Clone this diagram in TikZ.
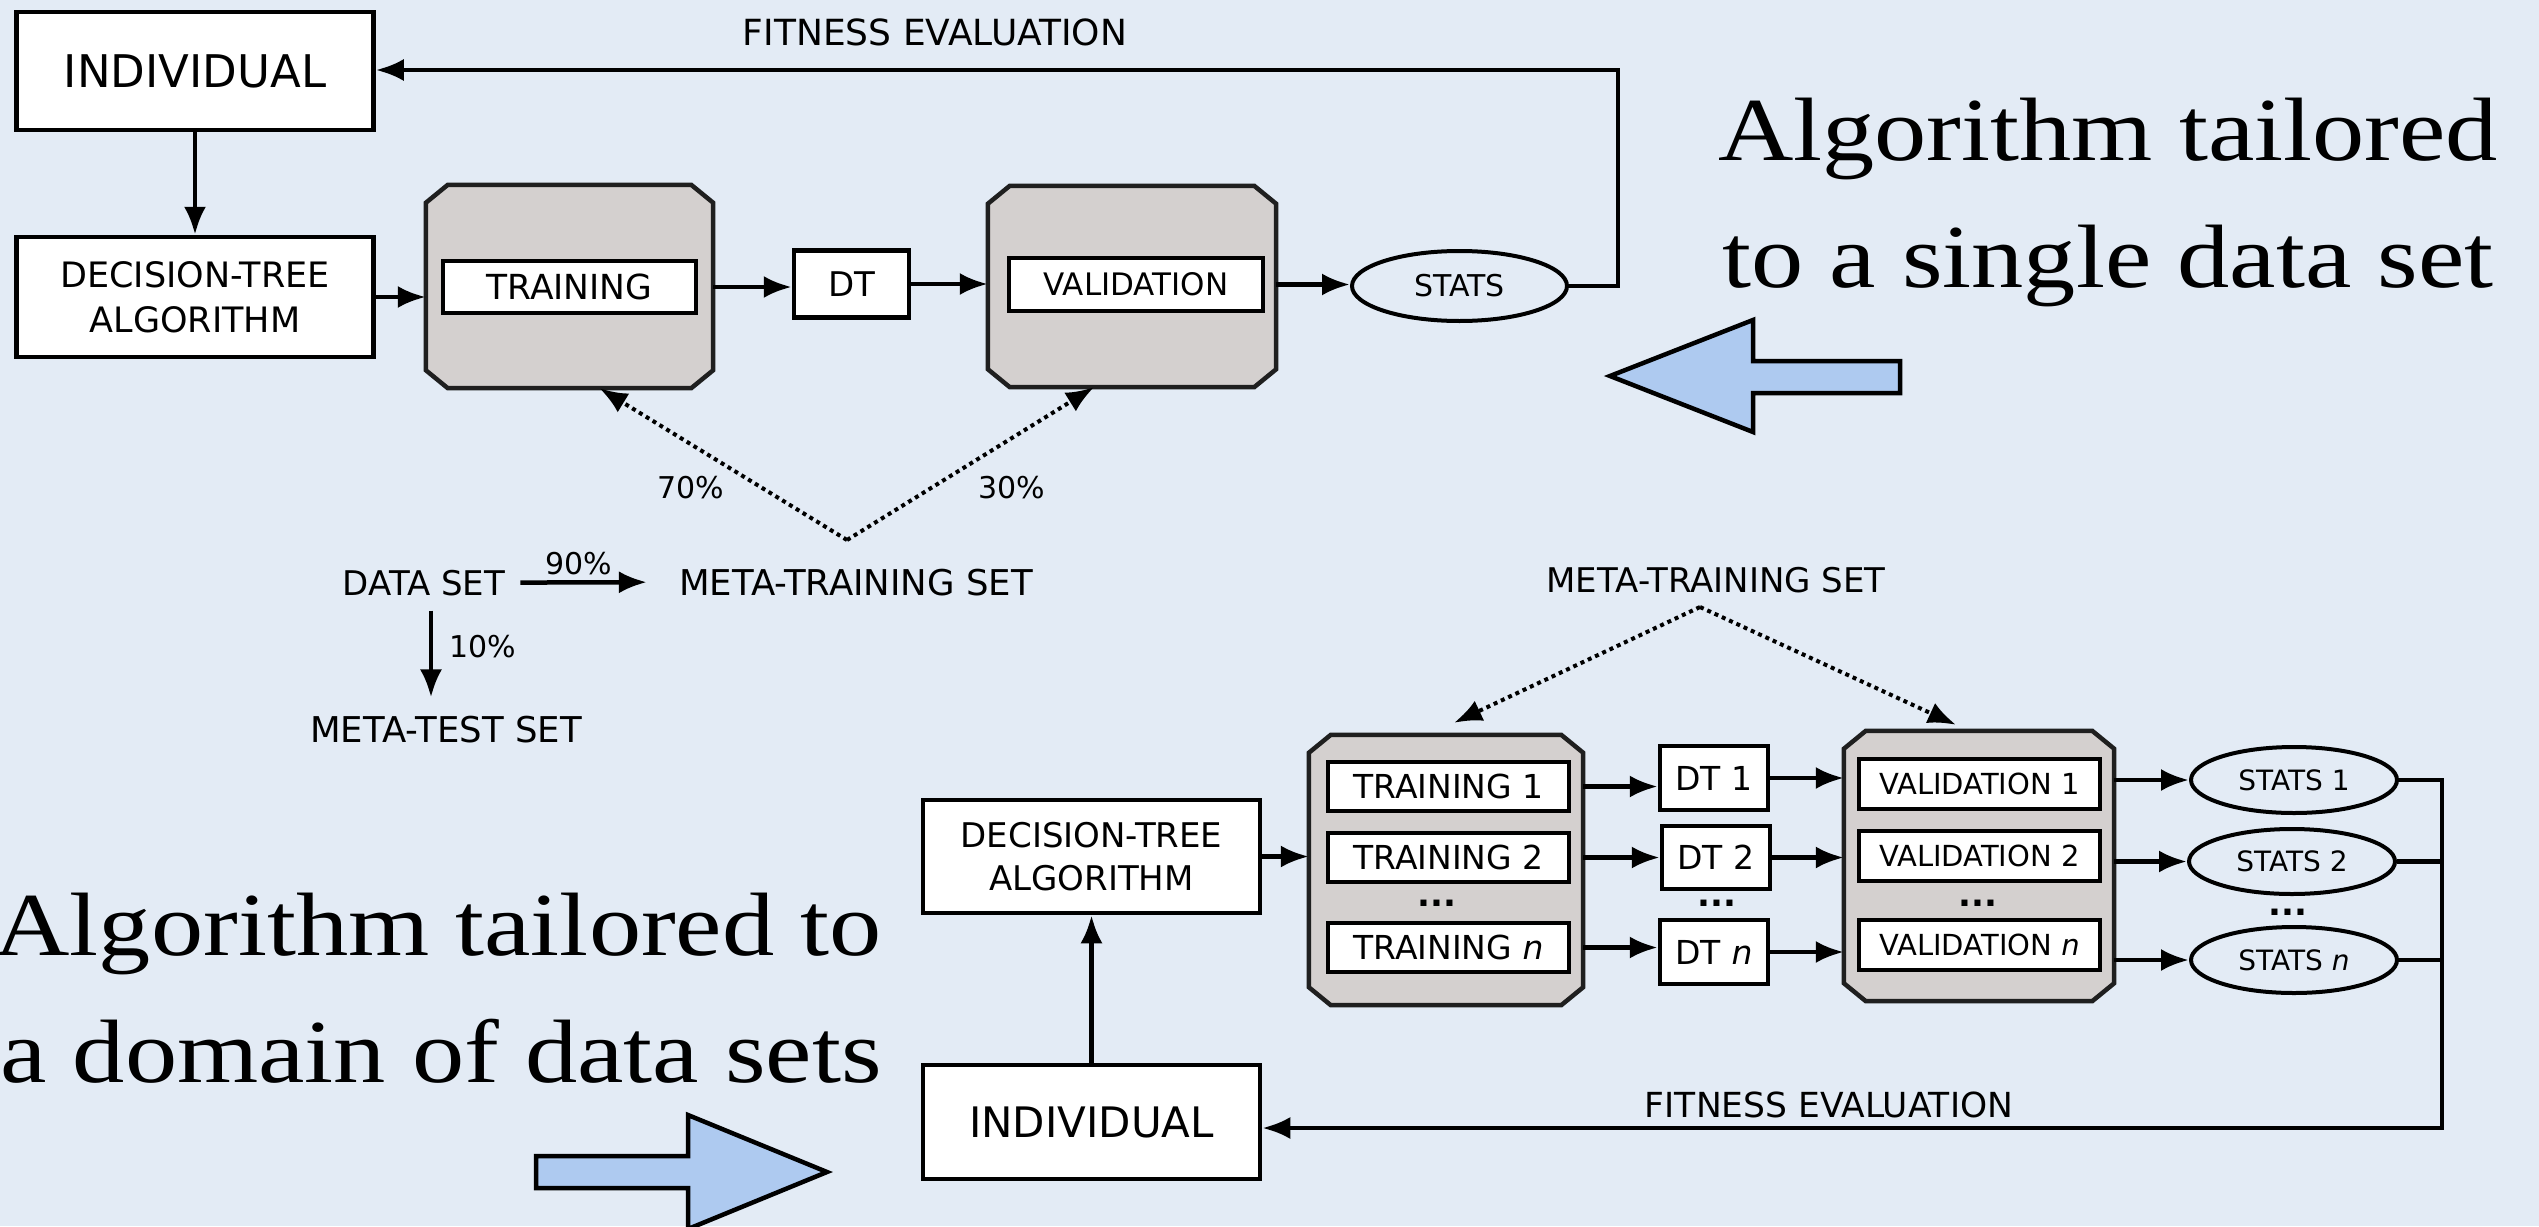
\documentclass[tikz,border=0pt]{standalone}
\usepackage{fontspec}
\usetikzlibrary{shapes.geometric,arrows.meta,calc}
\newfontfamily\dv{DejaVu Sans}
\newfontfamily\bigserif{Liberation Serif}[FakeStretch=1.16]
\definecolor{paper}{HTML}{E3EBF5}
\definecolor{contgrey}{HTML}{D4D0CF}
\definecolor{arrowblue}{HTML}{AECAF0}
\newcommand\dvsize[2]{\dv\fontsize{#1}{#2}\selectfont}
% grey stage panel with cut corners, drawn round an invisible frame node
\newcommand\chamferpanel[1]{%
  \filldraw[contpath] ($(#1.north west)+(0,18)$) -- ($(#1.north west)+(22,0)$)
    -- ($(#1.north east)+(-22,0)$) -- ($(#1.north east)+(0,18)$)
    -- ($(#1.south east)+(0,-18)$) -- ($(#1.south east)+(-22,0)$)
    -- ($(#1.south west)+(22,0)$) -- ($(#1.south west)+(0,-18)$) -- cycle;}
\begin{document}
\begin{tikzpicture}[x=1pt,y=-1pt,
  box/.style={draw, fill=white, line width=4.5pt, inner sep=0},
  inbox/.style={draw, fill=white, line width=4pt, inner sep=0},
  cont/.style={rectangle, inner sep=0},
  contpath/.style={draw=black!88, fill=contgrey, line width=4.5pt, line join=miter},
  stat/.style={ellipse, draw, line width=4pt, inner sep=0},
  txt/.style={inner sep=0},
  dots/.style={inner sep=0, font=\dvsize{34}{34}\bfseries},
  line/.style={line width=4.5pt},
  arr/.style={line width=4.5pt, -{Latex[length=28pt,width=22pt]}},
  dotarr/.style={line width=4pt, dash pattern=on 4pt off 4pt,
    -{Latex[length=28pt,width=22pt]}},
  bluearrow/.style={draw, fill=arrowblue, line width=4.5pt, line join=miter},
  serif/.style={inner sep=0, font=\bigserif\fontsize{90}{127}\selectfont}]

\fill[paper] (0,0) rectangle (2539,1226);
\useasboundingbox (0,0) rectangle (2539,1226);

% ---------- single data set ----------
\node[box, minimum width=357pt, minimum height=118pt, font=\dvsize{45}{50}] (ind1) at (195,71) {INDIVIDUAL};
\node[box, minimum width=357pt, minimum height=120pt, align=center, font=\dvsize{35}{45}] (dta1) at (195,297) {DECISION-TREE\\ALGORITHM};
\node[cont, minimum width=287pt, minimum height=203pt] (trc1) at (569.5,286.5) {};
\chamferpanel{trc1}
\node[inbox, minimum width=253pt, minimum height=52pt, font=\dvsize{34.5}{40}] (tr1) at (569.5,287) {TRAINING};
\node[box, minimum width=115pt, minimum height=67pt, font=\dvsize{34}{40}] (dt1) at (851.5,284) {DT};
\node[cont, minimum width=288pt, minimum height=201pt] (vac1) at (1132,286.5) {};
\chamferpanel{vac1}
\node[inbox, minimum width=254pt, minimum height=53pt, font=\dvsize{31}{36}] (va1) at (1136,284.5) {VALIDATION};
\node[stat, minimum width=215pt, minimum height=70pt, font=\dvsize{30}{36}] (st1) at (1459.5,286) {STATS};

\draw[arr] (ind1) -- (dta1);
\draw[arr] (dta1.east) -- (dta1.east -| trc1.west);
\draw[arr] (tr1.east -| trc1.east) -- (tr1.east -| dt1.west);
\draw[arr] (dt1.east) -- (dt1.east -| vac1.west);
\draw[arr] (va1.east -| vac1.east) -- (va1.east -| st1.west);
\coordinate (fbT) at (1618,70);
\draw[arr] (st1.east) -| (fbT) -- (fbT -| ind1.east);
\node[txt, font=\dvsize{36}{40}] (fe1) at (935,32) {FITNESS EVALUATION};

\coordinate (sp1) at (847,540);
\draw[dotarr] (sp1) -- ($(trc1.south)+(30,0)$);
\draw[dotarr] (sp1) -- ($(vac1.south)+(-38,0)$);
\node[txt, font=\dvsize{30}{36}] (p70) at (691,488) {70\%};
\node[txt, font=\dvsize{30}{36}] (p30) at (1012,488) {30\%};

\node[txt, anchor=base, font=\dvsize{34}{40}] (ds) at (424,595) {DATA SET};
\node[txt, anchor=base, font=\dvsize{35.5}{40}] (mtr1) at (856,595) {META-TRAINING SET};
\draw[arr, shorten <=15pt, shorten >=32pt] (ds.east) -- (mtr1.west);
\node[txt, font=\dvsize{30}{36}] (p90) at (579,564) {90\%};
\node[txt, anchor=base, font=\dvsize{35.5}{40}] (mte) at (446,742) {META-TEST SET};
\draw[arr] ($(ds.south)+(7,15)$) -- ($(mte.north)+(-15,-18)$);
\node[txt, anchor=west, font=\dvsize{30}{36}] (p10) at (449,647) {10\%};

% ---------- domain of data sets ----------
\node[txt, anchor=base, font=\dvsize{34}{40}] (mtr2) at (1716,592) {META-TRAINING SET};
\node[cont, minimum width=274pt, minimum height=270pt] (trc2) at (1446,870) {};
\chamferpanel{trc2}
\node[cont, minimum width=270pt, minimum height=270pt] (vac2) at (1979,866) {};
\chamferpanel{vac2}
\coordinate (sp2) at (1700,607);
\draw[dotarr] (sp2) -- ($(trc2.north)+(8,-12)$);
\draw[dotarr] (sp2) -- ($(vac2.north)+(-23,-6)$);

\node[inbox, minimum width=241pt, minimum height=49pt, font=\dvsize{33}{40}] (tr2a) at (1448.5,786.5) {TRAINING 1};
\node[inbox, minimum width=241pt, minimum height=49pt, font=\dvsize{33}{40}] (tr2b) at (1448.5,857.5) {TRAINING 2};
\node[dots] (tr2d) at (1437,903) {...};
\node[inbox, minimum width=241pt, minimum height=49pt, font=\dvsize{33}{40}] (tr2n) at (1448.5,947.5) {TRAINING {\itshape n}};

\node[box, minimum width=108pt, minimum height=64pt, font=\dvsize{33}{40}] (dt2a) at (1714,778) {DT 1};
\node[box, minimum width=108pt, minimum height=63pt, font=\dvsize{33}{40}] (dt2b) at (1716,857.5) {DT 2};
\node[dots] (dt2d) at (1717,903) {...};
\node[box, minimum width=108pt, minimum height=64pt, font=\dvsize{33}{40}] (dt2n) at (1714,952) {DT {\itshape n}};

\node[inbox, minimum width=241pt, minimum height=50pt, font=\dvsize{29}{36}] (va2a) at (1979.5,784) {VALIDATION 1};
\node[inbox, minimum width=241pt, minimum height=50pt, font=\dvsize{29}{36}] (va2b) at (1979.5,855.5) {VALIDATION 2};
\node[dots] (va2d) at (1978,903) {...};
\node[inbox, minimum width=241pt, minimum height=50pt, font=\dvsize{29}{36}] (va2n) at (1979.5,945) {VALIDATION {\itshape n}};

\node[stat, minimum width=206pt, minimum height=66pt, font=\dvsize{28}{34}] (st2a) at (2294,780) {STATS 1};
\node[stat, minimum width=206pt, minimum height=65pt, font=\dvsize{28}{34}] (st2b) at (2292,861.5) {STATS 2};
\node[dots] (st2d) at (2288,912) {...};
\node[stat, minimum width=206pt, minimum height=66pt, font=\dvsize{28}{34}] (st2n) at (2294,960) {STATS {\itshape n}};

\foreach \r in {a,b,n}{
  \draw[arr] (tr2\r.east -| trc2.east) -- (tr2\r.east -| dt2\r.west);
  \draw[arr] (dt2\r.east) -- (dt2\r.east -| vac2.west);
  \draw[arr] (st2\r.west -| vac2.east) -- (st2\r.west);
}

\node[box, minimum width=337pt, minimum height=113pt, align=center, font=\dvsize{34}{43}] (dta2) at (1091.5,856.5) {DECISION-TREE\\ALGORITHM};
\node[box, minimum width=337pt, minimum height=114pt, font=\dvsize{42}{48}] (ind2) at (1091.5,1122) {INDIVIDUAL};
\draw[arr] (ind2) -- (dta2);
\draw[arr] (dta2.east) -- (dta2.east -| trc2.west);

\coordinate (fbB) at (2442,1128);
\draw[arr] (st2a.east) -| (fbB) -- (fbB -| ind2.east);
\draw[line] (st2b.east) -- (st2b.east -| fbB);
\draw[line] (st2n.east) -- (st2n.east -| fbB);
\node[txt, anchor=base, font=\dvsize{34.5}{40}] (fe2) at (1829,1117) {FITNESS EVALUATION};

% ---------- pointer arrows ----------
\draw[bluearrow] (1610,376) -- (1753,320) -- (1753,361) -- (1900,361) -- (1900,393) -- (1753,393) -- (1753,432) -- cycle;
\draw[bluearrow] (827,1172) -- (688,1115) -- (688,1156) -- (536,1156) -- (536,1188) -- (688,1188) -- (688,1229) -- cycle;

% ---------- captions ----------
\node[serif, anchor=base] (t1a) at (2108,160) {Algorithm tailored};
\node[serif, anchor=base] (t1b) at (2108,287) {to a single data set};
\node[serif, anchor=base east] (t2a) at (882,955) {Algorithm tailored to};
\node[serif, anchor=base east] (t2b) at (882,1082) {a domain of data sets};
\end{tikzpicture}
\end{document}
